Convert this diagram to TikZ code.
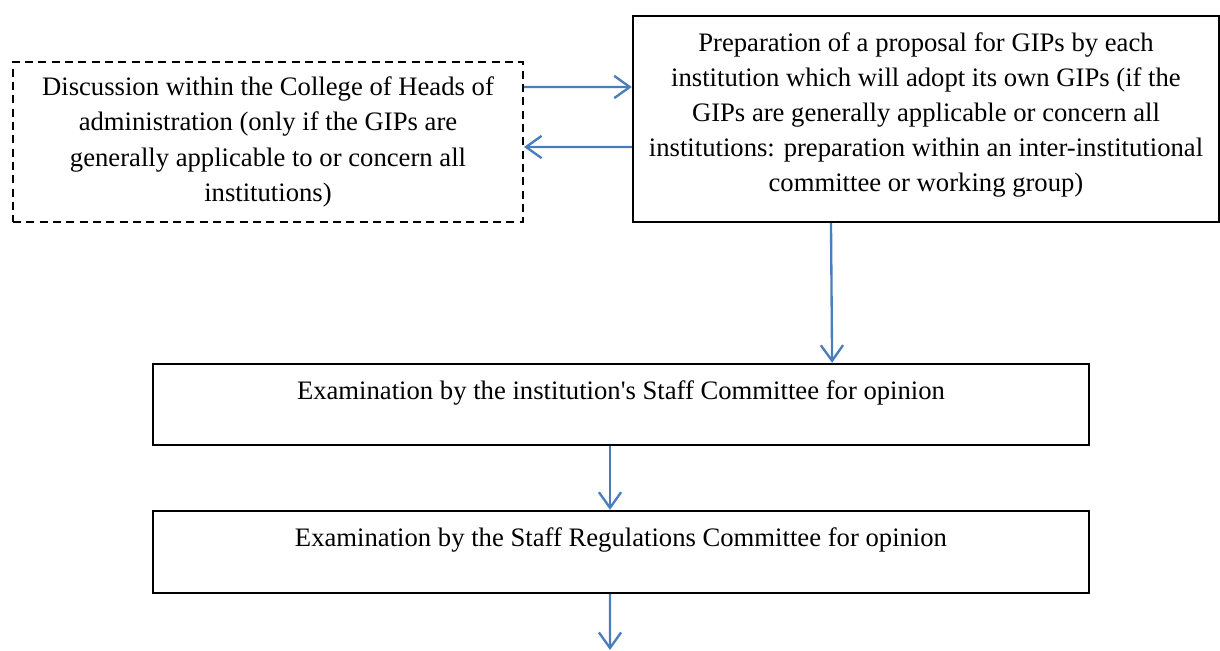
\documentclass[tikz,border=0pt]{standalone}
\usepackage{fontspec}
\setmainfont{Liberation Serif}
\usetikzlibrary{arrows.meta}
\definecolor{flowblue}{RGB}{74,126,187}
\tikzset{
    stepbox/.style={draw, line width=1.1pt, inner sep=0pt, align=center,
        font=\fontsize{12pt}{15.8pt}\selectfont},
    dashbox/.style={stepbox, line width=0.9pt, dash pattern=on 3.6pt off 2.4pt},
    flow/.style={draw=flowblue, line width=1.05pt, -{Straight Barb[length=7pt,width=10pt,line width=1.05pt]}}
}
\begin{document}
\begin{tikzpicture}[x=0.45pt, y=-0.45pt]
                \useasboundingbox (0,0) rectangle (1220,651);
                \draw (268,142) node[dashbox, minimum width=510*0.45pt, minimum height=160*0.45pt] (disc)
                    {Discussion within the College of Heads of\\ administration (only if the GIPs are\\ generally applicable to or concern all\\ institutions)};
                \draw (926,119) node[stepbox, minimum width=586*0.45pt, minimum height=206*0.45pt, text depth=6.2pt] (prep)
                    {Preparation of a proposal for GIPs by each\\ institution which will adopt its own GIPs (if the\\ GIPs are generally applicable or concern all\\ institutions: preparation within an inter-institutional\\ committee or working group)};
                \draw (621,404.5) node[stepbox, minimum width=936*0.45pt, minimum height=81*0.45pt, text depth=13pt] (staff)
                    {Examination by the institution\textquotesingle s Staff Committee for opinion};
                \draw (621,552) node[stepbox, minimum width=936*0.45pt, minimum height=82*0.45pt, text depth=13pt] (regs)
                    {Examination by the Staff Regulations Committee for opinion};
                \coordinate (next) at (610,650);
                % arrows
                \draw[flow] ([yshift=24.75pt]disc.east) -- ([yshift=14.4pt]prep.west);
                \draw[flow] ([yshift=-12.6pt]prep.west) -- ([yshift=-2.25pt]disc.east);
                \draw[flow] ([xshift=-42.75pt]prep.south) -- ([xshift=95pt]staff.north);
                \draw[flow] ([xshift=-4.95pt]staff.south) -- ([xshift=-4.95pt]regs.north);
                \draw[flow] ([xshift=-4.95pt]regs.south) -- (next);
            \end{tikzpicture}
\end{document}
